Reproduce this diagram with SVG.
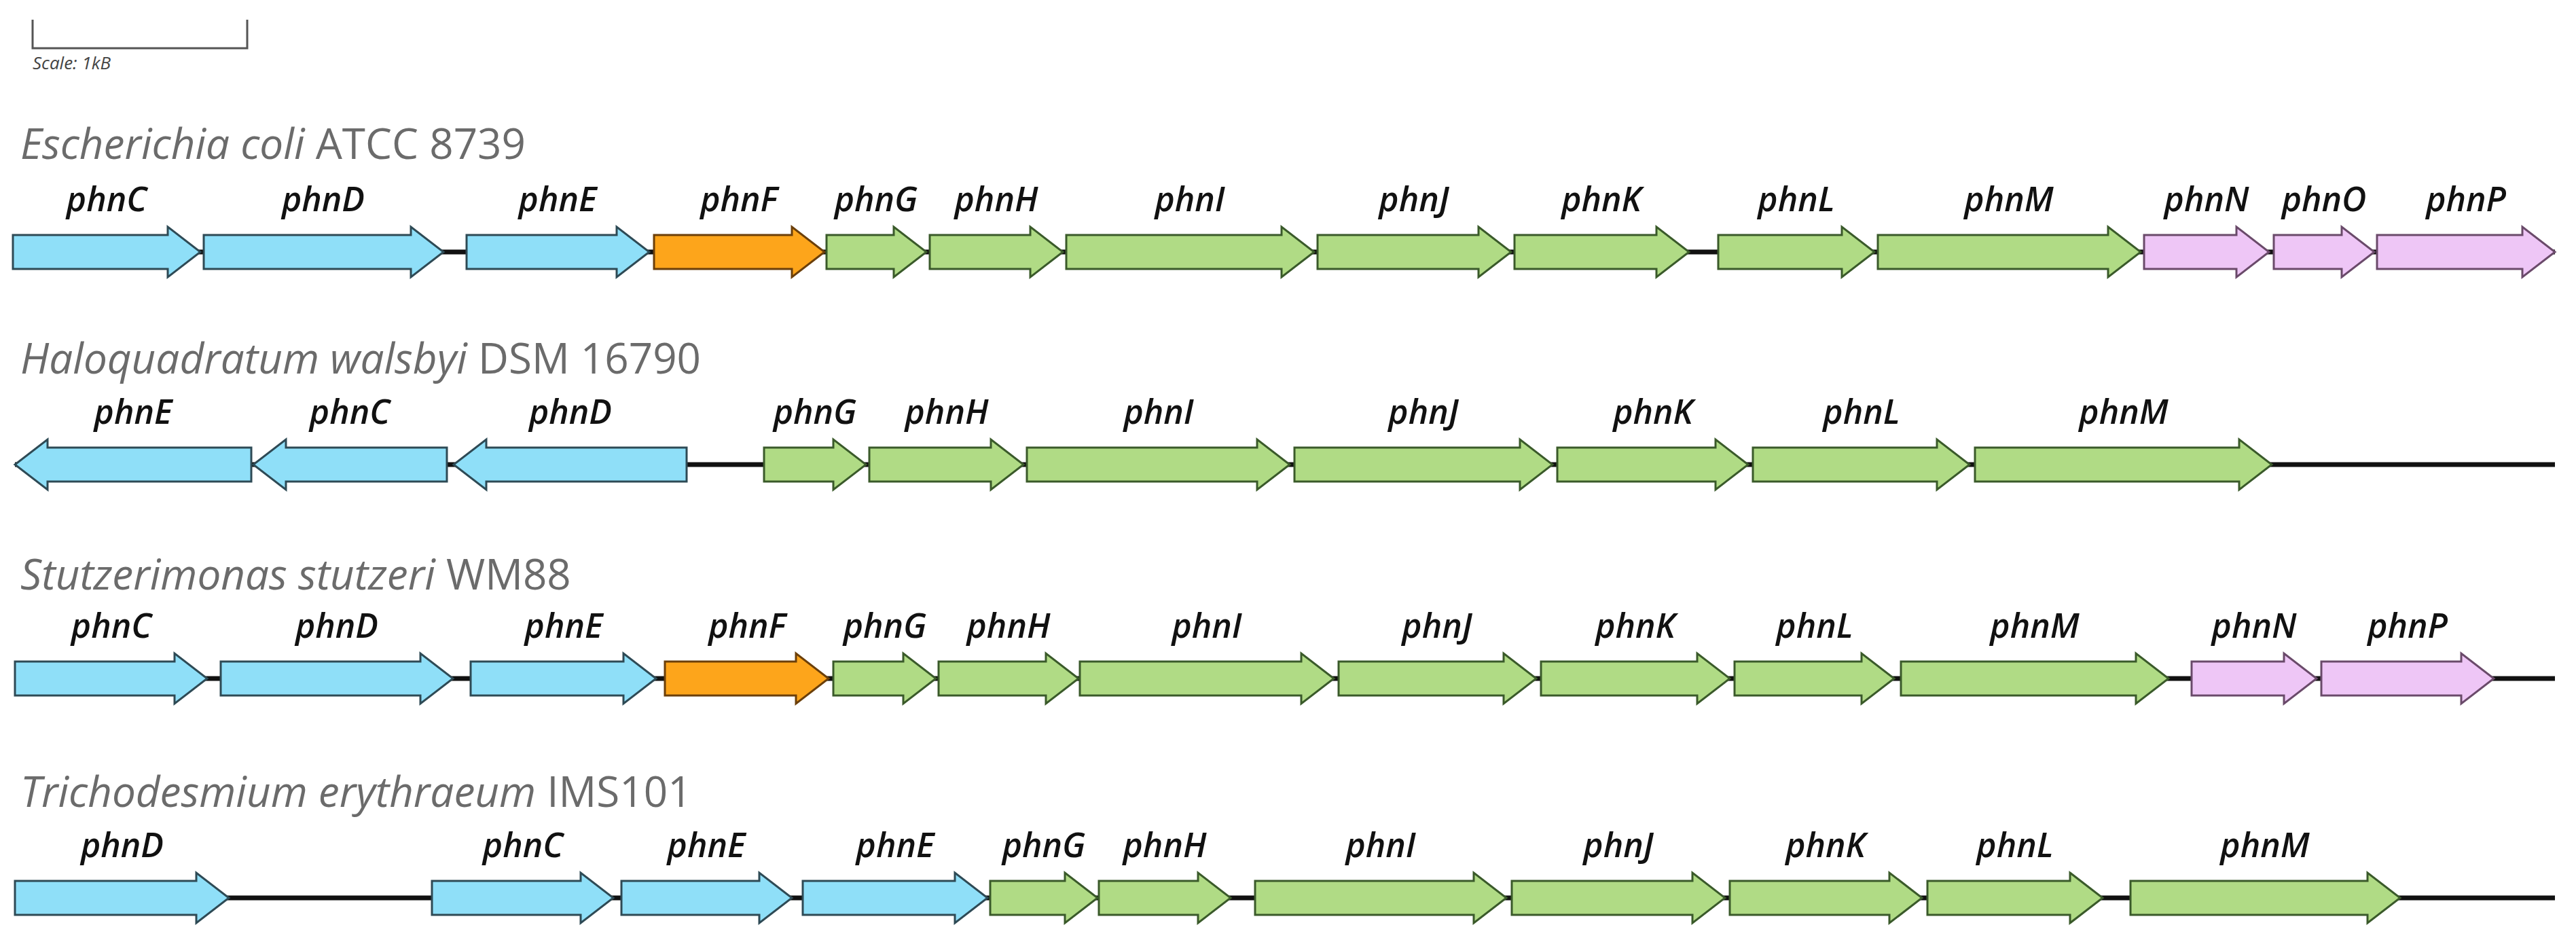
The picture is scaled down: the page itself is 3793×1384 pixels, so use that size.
<svg xmlns="http://www.w3.org/2000/svg" width="3793" height="1384" viewBox="0 0 3793 1384">
<style>
text{font-family:"Open Sans","Noto Sans","Liberation Sans",sans-serif}
.t{font-size:62px;fill:#6b6b6b}
.t .i{font-style:italic}
.g{font-size:50px;font-style:italic;font-weight:600;fill:#111;text-anchor:middle}
.bb{stroke:#111;stroke-width:7}
.b{fill:#8fdff8;stroke:#2e4a55;stroke-width:3}
.o{fill:#fda51b;stroke:#6b3f0a;stroke-width:3}
.gr{fill:#b0db85;stroke:#3a5a2a;stroke-width:3}
.p{fill:#eec6f6;stroke:#6a4a6a;stroke-width:3}
</style>
<g id="scale">
<polyline points="48,29 48,71 364,71 364,29" fill="none" stroke="#555" stroke-width="3"/>
<text x="48" y="102" font-size="26" font-style="italic" fill="#444">Scale: 1kB</text>
</g>
<g id="connectors">
<line class="bb" x1="19" y1="371" x2="3762" y2="371"/>
<line class="bb" x1="22" y1="684" x2="3762" y2="684"/>
<line class="bb" x1="22" y1="999" x2="3762" y2="999"/>
<line class="bb" x1="22" y1="1322" x2="3762" y2="1322"/>
</g>
<g id="row1" transform="translate(0,371)">
<text class="t" x="30" y="-137"><tspan class="i">Escherichia coli</tspan> ATCC 8739</text>
<g id="r1-phnC"><polygon class="b" points="19,-25 247,-25 247,-37 295,0 247,37 247,25 19,25"/><text class="g" x="157" y="-60">phnC</text></g>
<g id="r1-phnD"><polygon class="b" points="300,-25 605,-25 605,-37 653,0 605,37 605,25 300,25"/><text class="g" x="476" y="-60">phnD</text></g>
<g id="r1-phnE"><polygon class="b" points="687,-25 908,-25 908,-37 956,0 908,37 908,25 687,25"/><text class="g" x="821" y="-60">phnE</text></g>
<g id="r1-phnF"><polygon class="o" points="963,-25 1166,-25 1166,-37 1214,0 1166,37 1166,25 963,25"/><text class="g" x="1088" y="-60">phnF</text></g>
<g id="r1-phnG"><polygon class="gr" points="1217,-25 1316,-25 1316,-37 1364,0 1316,37 1316,25 1217,25"/><text class="g" x="1290" y="-60">phnG</text></g>
<g id="r1-phnH"><polygon class="gr" points="1369,-25 1517,-25 1517,-37 1565,0 1517,37 1517,25 1369,25"/><text class="g" x="1467" y="-60">phnH</text></g>
<g id="r1-phnI"><polygon class="gr" points="1570,-25 1887,-25 1887,-37 1935,0 1887,37 1887,25 1570,25"/><text class="g" x="1752" y="-60">phnI</text></g>
<g id="r1-phnJ"><polygon class="gr" points="1940,-25 2177,-25 2177,-37 2225,0 2177,37 2177,25 1940,25"/><text class="g" x="2082" y="-60">phnJ</text></g>
<g id="r1-phnK"><polygon class="gr" points="2230,-25 2439,-25 2439,-37 2487,0 2439,37 2439,25 2230,25"/><text class="g" x="2358" y="-60">phnK</text></g>
<g id="r1-phnL"><polygon class="gr" points="2530,-25 2712,-25 2712,-37 2760,0 2712,37 2712,25 2530,25"/><text class="g" x="2645" y="-60">phnL</text></g>
<g id="r1-phnM"><polygon class="gr" points="2765,-25 3104,-25 3104,-37 3152,0 3104,37 3104,25 2765,25"/><text class="g" x="2958" y="-60">phnM</text></g>
<g id="r1-phnN"><polygon class="p" points="3157,-25 3293,-25 3293,-37 3341,0 3293,37 3293,25 3157,25"/><text class="g" x="3249" y="-60">phnN</text></g>
<g id="r1-phnO"><polygon class="p" points="3348,-25 3448,-25 3448,-37 3496,0 3448,37 3448,25 3348,25"/><text class="g" x="3422" y="-60">phnO</text></g>
<g id="r1-phnP"><polygon class="p" points="3500,-25 3714,-25 3714,-37 3762,0 3714,37 3714,25 3500,25"/><text class="g" x="3631" y="-60">phnP</text></g>
</g>
<g id="row2" transform="translate(0,684)">
<text class="t" x="30" y="-134"><tspan class="i">Haloquadratum walsbyi</tspan> DSM 16790</text>
<g id="r2-phnE"><polygon class="b" points="370,-25 70,-25 70,-37 22,0 70,37 70,25 370,25"/><text class="g" x="196" y="-60">phnE</text></g>
<g id="r2-phnC"><polygon class="b" points="658,-25 421,-25 421,-37 373,0 421,37 421,25 658,25"/><text class="g" x="515" y="-60">phnC</text></g>
<g id="r2-phnD"><polygon class="b" points="1011,-25 716,-25 716,-37 668,0 716,37 716,25 1011,25"/><text class="g" x="840" y="-60">phnD</text></g>
<g id="r2-phnG"><polygon class="gr" points="1125,-25 1227,-25 1227,-37 1275,0 1227,37 1227,25 1125,25"/><text class="g" x="1200" y="-60">phnG</text></g>
<g id="r2-phnH"><polygon class="gr" points="1280,-25 1459,-25 1459,-37 1507,0 1459,37 1459,25 1280,25"/><text class="g" x="1394" y="-60">phnH</text></g>
<g id="r2-phnI"><polygon class="gr" points="1512,-25 1851,-25 1851,-37 1899,0 1851,37 1851,25 1512,25"/><text class="g" x="1706" y="-60">phnI</text></g>
<g id="r2-phnJ"><polygon class="gr" points="1906,-25 2238,-25 2238,-37 2286,0 2238,37 2238,25 1906,25"/><text class="g" x="2096" y="-60">phnJ</text></g>
<g id="r2-phnK"><polygon class="gr" points="2293,-25 2526,-25 2526,-37 2574,0 2526,37 2526,25 2293,25"/><text class="g" x="2434" y="-60">phnK</text></g>
<g id="r2-phnL"><polygon class="gr" points="2581,-25 2852,-25 2852,-37 2900,0 2852,37 2852,25 2581,25"/><text class="g" x="2741" y="-60">phnL</text></g>
<g id="r2-phnM"><polygon class="gr" points="2908,-25 3297,-25 3297,-37 3345,0 3297,37 3297,25 2908,25"/><text class="g" x="3127" y="-60">phnM</text></g>
</g>
<g id="row3" transform="translate(0,999)">
<text class="t" x="30" y="-131"><tspan class="i">Stutzerimonas stutzeri</tspan> WM88</text>
<g id="r3-phnC"><polygon class="b" points="22,-25 257,-25 257,-37 305,0 257,37 257,25 22,25"/><text class="g" x="164" y="-60">phnC</text></g>
<g id="r3-phnD"><polygon class="b" points="325,-25 619,-25 619,-37 667,0 619,37 619,25 325,25"/><text class="g" x="496" y="-60">phnD</text></g>
<g id="r3-phnE"><polygon class="b" points="693,-25 918,-25 918,-37 966,0 918,37 918,25 693,25"/><text class="g" x="830" y="-60">phnE</text></g>
<g id="r3-phnF"><polygon class="o" points="979,-25 1172,-25 1172,-37 1220,0 1172,37 1172,25 979,25"/><text class="g" x="1100" y="-60">phnF</text></g>
<g id="r3-phnG"><polygon class="gr" points="1227,-25 1330,-25 1330,-37 1378,0 1330,37 1330,25 1227,25"/><text class="g" x="1303" y="-60">phnG</text></g>
<g id="r3-phnH"><polygon class="gr" points="1382,-25 1540,-25 1540,-37 1588,0 1540,37 1540,25 1382,25"/><text class="g" x="1485" y="-60">phnH</text></g>
<g id="r3-phnI"><polygon class="gr" points="1590,-25 1916,-25 1916,-37 1964,0 1916,37 1916,25 1590,25"/><text class="g" x="1777" y="-60">phnI</text></g>
<g id="r3-phnJ"><polygon class="gr" points="1971,-25 2214,-25 2214,-37 2262,0 2214,37 2214,25 1971,25"/><text class="g" x="2116" y="-60">phnJ</text></g>
<g id="r3-phnK"><polygon class="gr" points="2269,-25 2499,-25 2499,-37 2547,0 2499,37 2499,25 2269,25"/><text class="g" x="2408" y="-60">phnK</text></g>
<g id="r3-phnL"><polygon class="gr" points="2554,-25 2741,-25 2741,-37 2789,0 2741,37 2741,25 2554,25"/><text class="g" x="2672" y="-60">phnL</text></g>
<g id="r3-phnM"><polygon class="gr" points="2799,-25 3145,-25 3145,-37 3193,0 3145,37 3145,25 2799,25"/><text class="g" x="2996" y="-60">phnM</text></g>
<g id="r3-phnN"><polygon class="p" points="3227,-25 3363,-25 3363,-37 3411,0 3363,37 3363,25 3227,25"/><text class="g" x="3319" y="-60">phnN</text></g>
<g id="r3-phnP"><polygon class="p" points="3418,-25 3624,-25 3624,-37 3672,0 3624,37 3624,25 3418,25"/><text class="g" x="3545" y="-60">phnP</text></g>
</g>
<g id="row4" transform="translate(0,1322)">
<text class="t" x="30" y="-134"><tspan class="i">Trichodesmium erythraeum</tspan> IMS101</text>
<g id="r4-phnD"><polygon class="b" points="22,-25 289,-25 289,-37 337,0 289,37 289,25 22,25"/><text class="g" x="180" y="-60">phnD</text></g>
<g id="r4-phnC"><polygon class="b" points="636,-25 855,-25 855,-37 903,0 855,37 855,25 636,25"/><text class="g" x="770" y="-60">phnC</text></g>
<g id="r4-phnE1"><polygon class="b" points="915,-25 1118,-25 1118,-37 1166,0 1118,37 1118,25 915,25"/><text class="g" x="1040" y="-60">phnE</text></g>
<g id="r4-phnE2"><polygon class="b" points="1182,-25 1406,-25 1406,-37 1454,0 1406,37 1406,25 1182,25"/><text class="g" x="1318" y="-60">phnE</text></g>
<g id="r4-phnG"><polygon class="gr" points="1458,-25 1568,-25 1568,-37 1616,0 1568,37 1568,25 1458,25"/><text class="g" x="1537" y="-60">phnG</text></g>
<g id="r4-phnH"><polygon class="gr" points="1618,-25 1764,-25 1764,-37 1812,0 1764,37 1764,25 1618,25"/><text class="g" x="1715" y="-60">phnH</text></g>
<g id="r4-phnI"><polygon class="gr" points="1848,-25 2170,-25 2170,-37 2218,0 2170,37 2170,25 1848,25"/><text class="g" x="2033" y="-60">phnI</text></g>
<g id="r4-phnJ"><polygon class="gr" points="2226,-25 2492,-25 2492,-37 2540,0 2492,37 2492,25 2226,25"/><text class="g" x="2383" y="-60">phnJ</text></g>
<g id="r4-phnK"><polygon class="gr" points="2547,-25 2782,-25 2782,-37 2830,0 2782,37 2782,25 2547,25"/><text class="g" x="2688" y="-60">phnK</text></g>
<g id="r4-phnL"><polygon class="gr" points="2838,-25 3048,-25 3048,-37 3096,0 3048,37 3048,25 2838,25"/><text class="g" x="2967" y="-60">phnL</text></g>
<g id="r4-phnM"><polygon class="gr" points="3137,-25 3486,-25 3486,-37 3534,0 3486,37 3486,25 3137,25"/><text class="g" x="3335" y="-60">phnM</text></g>
</g>
</svg>
